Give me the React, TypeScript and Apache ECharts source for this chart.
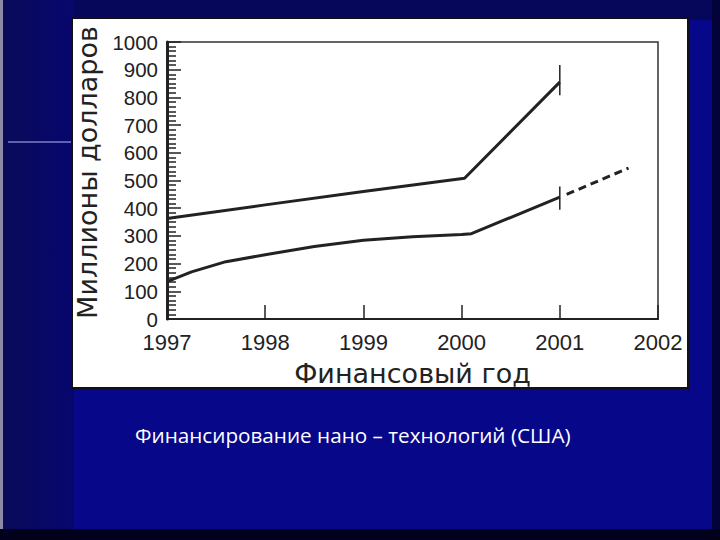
import { useEffect, useRef } from "react";
import * as echarts from "echarts";

// upper curve (solid)
const upperYears = [1997, 1998, 1999, 2000.03, 2001];
const upperValues = [363, 412, 460, 508, 855];

// lower curve (solid part)
const lowerYears = [1997, 1997.25, 1997.6, 1998, 1998.5, 1999, 1999.5, 2000, 2000.1, 2001];
const lowerValues = [135, 170, 207, 232, 262, 284, 297, 305, 308, 440];

// lower curve, dashed continuation
const forecastYears = [2001.07, 2001.7];
const forecastValues = [450, 545];

// short vertical marks at 2001
const markYear = 2001;
const upperMark = [808, 917];
const lowerMark = [394, 478];

const X_MIN = 1997;
const X_MAX = 2002;
const Y_MIN = 0;
const Y_MAX = 1000;

const X_TITLE = "Финансовый год";
const Y_TITLE = "Миллионы долларов";
const CAPTION = "Финансирование нано – технологий (США)";

const INK = "#222222";

function pairs(xs: number[], ys: number[]): number[][] {
  return xs.map((x, i) => [x, ys[i]]);
}

export default function App(): JSX.Element {
  const ref = useRef<HTMLDivElement | null>(null);

  useEffect(() => {
    const el = ref.current;
    if (!el) return;
    const chart = echarts.init(el, null, { renderer: "svg" });

    const option = {
      animation: false,
      backgroundColor: "#07078a",
      graphic: [
        { type: "rect", z: -10, shape: { x: 0, y: 0, width: 720, height: 20 }, style: { fill: "#06065a" } },
        {
          type: "rect",
          z: -10,
          shape: { x: 0, y: 0, width: 74, height: 540 },
          style: {
            fill: new echarts.graphic.LinearGradient(0, 0, 1, 0, [
              { offset: 0, color: "#0a0a58" },
              { offset: 1, color: "#06066e" },
            ]),
          },
        },
        { type: "rect", z: -9, shape: { x: 0, y: 0, width: 3, height: 540 }, style: { fill: "#8a8aa6" } },
        { type: "rect", z: -9, shape: { x: 712, y: 0, width: 8, height: 540 }, style: { fill: "#03033a" } },
        { type: "rect", z: -9, shape: { x: 0, y: 529, width: 720, height: 11 }, style: { fill: "#01011c" } },
        { type: "line", z: -9, shape: { x1: 8, y1: 142, x2: 72, y2: 142 }, style: { stroke: "#b8b8ff", lineWidth: 1 } },
        {
          type: "rect",
          z: -8,
          shape: { x: 72, y: 18, width: 616, height: 370 },
          style: { fill: "#ffffff", stroke: "#111111", lineWidth: 2 },
        },
        {
          type: "text",
          z: 10,
          x: 135,
          y: 435,
          style: {
            text: CAPTION,
            fill: "#ffffff",
            fontSize: 20.7,
            fontFamily: "Open Sans",
            verticalAlign: "middle",
          },
        },
      ],
      grid: {
        left: 167,
        right: 62,
        top: 42,
        bottom: 221,
        show: true,
        borderColor: "#333333",
        borderWidth: 1.5,
      },
      xAxis: {
        type: "value",
        min: X_MIN,
        max: X_MAX,
        interval: 1,
        name: X_TITLE,
        nameLocation: "middle",
        nameGap: 41,
        nameTextStyle: { fontSize: 27, fontFamily: "DejaVu Sans", color: INK },
        axisLine: { lineStyle: { color: INK, width: 2 } },
        axisTick: { inside: true, length: 14, lineStyle: { color: INK, width: 1.5 } },
        axisLabel: {
          formatter: (v: number) => String(v),
          fontSize: 22,
          lineHeight: 22,
          fontFamily: "Liberation Sans",
          color: INK,
          margin: 12,
        },
        splitLine: { show: false },
      },
      yAxis: {
        type: "value",
        min: Y_MIN,
        max: Y_MAX,
        interval: 100,
        name: Y_TITLE,
        nameLocation: "middle",
        nameRotate: 90,
        nameGap: 55,
        nameTextStyle: {
          fontSize: 27,
          fontFamily: "DejaVu Sans",
          color: INK,
          padding: [0, 0, 0, 16],
        },
        axisLine: { show: true, lineStyle: { color: INK, width: 3 } },
        axisTick: { show: true, inside: true, length: 14, lineStyle: { color: INK, width: 1.5 } },
        minorTick: { show: true, splitNumber: 6, length: 9, lineStyle: { color: INK, width: 1.5 } },
        axisLabel: {
          formatter: (v: number) => String(v),
          fontSize: 20.5,
          lineHeight: 15,
          fontFamily: "Liberation Sans",
          color: INK,
          margin: 9,
        },
        splitLine: { show: false },
      },
      series: [
        {
          type: "line",
          data: pairs(upperYears, upperValues),
          symbol: "none",
          lineStyle: { color: INK, width: 3 },
        },
        {
          type: "line",
          data: pairs(lowerYears, lowerValues),
          symbol: "none",
          lineStyle: { color: INK, width: 3 },
        },
        {
          type: "line",
          data: pairs(forecastYears, forecastValues),
          symbol: "none",
          lineStyle: { color: INK, width: 3, type: [8, 5] },
        },
        {
          type: "line",
          data: [[markYear, upperMark[0]], [markYear, upperMark[1]]],
          symbol: "none",
          lineStyle: { color: INK, width: 1.5 },
        },
        {
          type: "line",
          data: [[markYear, lowerMark[0]], [markYear, lowerMark[1]]],
          symbol: "none",
          lineStyle: { color: INK, width: 1.5 },
        },
      ],
    };

    chart.setOption(option);
    return () => chart.dispose();
  }, []);

  return <div ref={ref} style={{ position: "fixed", left: 0, top: 0, width: 720, height: 540 }} />;
}
